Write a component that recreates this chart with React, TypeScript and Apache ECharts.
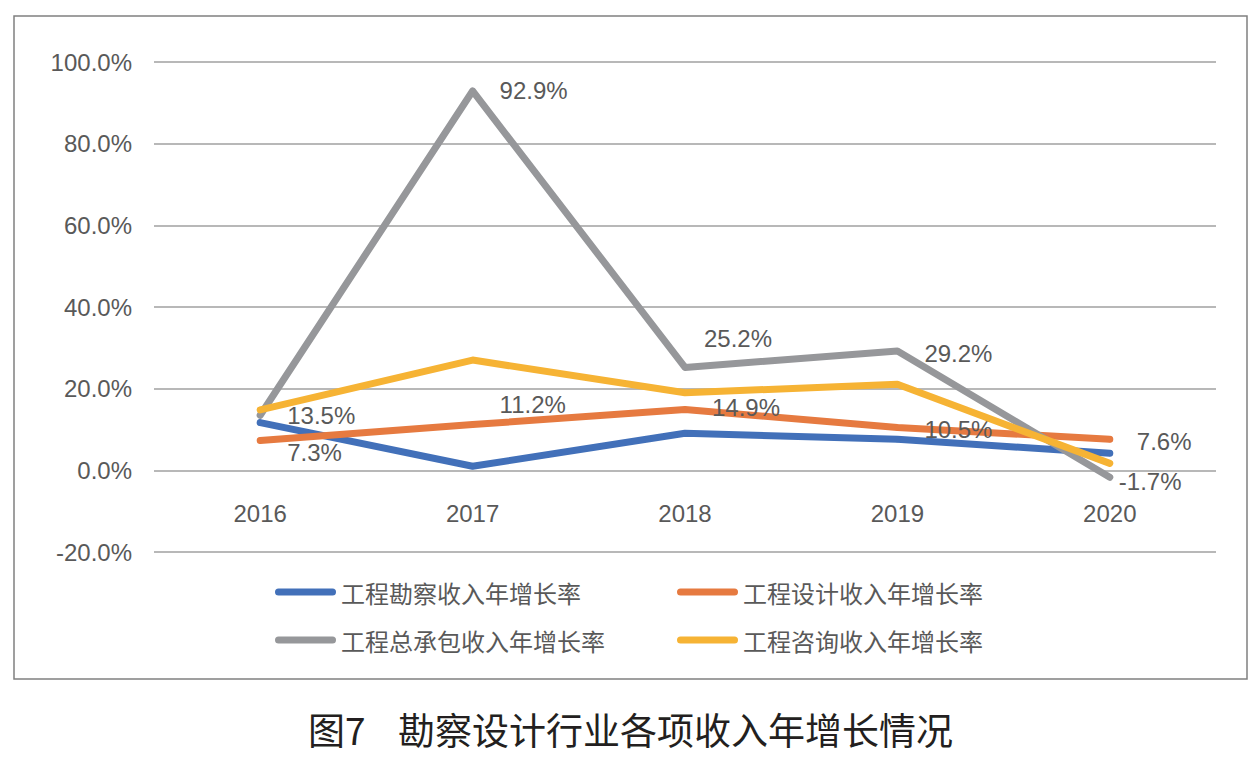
import React, { useEffect, useRef } from "react";
import * as echarts from "echarts";

const years = ["2016", "2017", "2018", "2019", "2020"];
const seriesNames = ["工程勘察收入年增长率", "工程设计收入年增长率", "工程总承包收入年增长率", "工程咨询收入年增长率"];
const survey = [11.7, 1.0, 9.1, 7.6, 4.2];
const design = [7.3, 11.2, 14.9, 10.5, 7.6];
const epc = [13.5, 92.9, 25.2, 29.2, -1.7];
const consulting = [14.8, 27.0, 19.0, 21.1, 1.7];
const yTicks = { min: -20, max: 100, interval: 20 };
const chartTitleNo = "图7";
const chartTitle = "勘察设计行业各项收入年增长情况";

const colors = ["#4270b9", "#e67a40", "#96979a", "#f6b334"];
const epcLabelOffsets = [[0, 0], [0, 0], [-8, -29], [0, 2], [-18, 4]];
const designLabelOffsets = [[0, 12], [0, -20], [0, -2], [0, 2], [0, 2]];

const FONT = "'Liberation Sans', 'Noto Sans CJK SC', sans-serif";
const CJK = "'Noto Sans CJK SC', sans-serif";
const PILL = "path://M3.5,0 L57.5,0 A3.5,3.5 0 0 1 57.5,7 L3.5,7 A3.5,3.5 0 0 1 3.5,0 Z";

export default function App() {
  const ref = useRef<HTMLDivElement>(null);
  useEffect(() => {
    if (!ref.current) return;
    const chart = echarts.init(ref.current, undefined, { renderer: "svg" });
    const pct = (v: number) => v.toFixed(1) + "%";
    const labelStyle = { fontSize: 24, color: "#595959", fontFamily: FONT };
    const withLabels = (vals: number[], offsets: number[][]) =>
      vals.map((v, i) => ({
        value: v,
        label: { show: true, position: "right", distance: 24, offset: offsets[i], formatter: pct(v), ...labelStyle },
      }));
    const makeSeries = (name: string, data: any[], color: string, z: number) => ({
      name,
      type: "line",
      data,
      symbol: "circle",
      symbolSize: 6,
      showSymbol: true,
      z,
      lineStyle: { width: 7, color, cap: "round", join: "round" },
      itemStyle: { color, borderWidth: 0 },
      emphasis: { disabled: true },
    });
    const legendItem = (name: string, left: number, top: number) => ({
      data: [name],
      left,
      top,
      icon: PILL,
      itemWidth: 61,
      itemHeight: 7,
      itemGap: 0,
      itemTextGap: 11,
      textStyle: { fontSize: 24, color: "#595959", fontFamily: CJK },
      selectedMode: false,
    });
    chart.setOption({
      animation: false,
      backgroundColor: "#ffffff",
      grid: { left: 154, right: 44, top: 62, bottom: 210, containLabel: false },
      xAxis: {
        type: "category",
        data: years,
        boundaryGap: true,
        axisLine: { show: false, onZero: false },
        axisTick: { show: false },
        axisLabel: { margin: -51, fontSize: 24, color: "#595959", fontFamily: FONT },
      },
      yAxis: {
        type: "value",
        min: yTicks.min,
        max: yTicks.max,
        interval: yTicks.interval,
        axisLine: { show: false },
        axisTick: { show: false },
        splitLine: { lineStyle: { color: "#a0a0a0", width: 1.5 } },
        axisLabel: { margin: 22, fontSize: 24, color: "#595959", fontFamily: FONT, formatter: (v: number) => pct(v) },
      },
      legend: [
        legendItem(seriesNames[0], 270, 575),
        legendItem(seriesNames[1], 672, 575),
        legendItem(seriesNames[2], 270, 623),
        legendItem(seriesNames[3], 672, 623),
      ],
      series: [
        makeSeries(seriesNames[0], survey, colors[0], 2),
        makeSeries(seriesNames[1], withLabels(design, designLabelOffsets), colors[1], 3),
        makeSeries(seriesNames[2], withLabels(epc, epcLabelOffsets), colors[2], 4),
        makeSeries(seriesNames[3], consulting, colors[3], 5),
      ],
      graphic: [
        {
          type: "rect",
          shape: { x: 14, y: 16, width: 1233, height: 663 },
          style: { fill: "none", stroke: "#808080", lineWidth: 1.5 },
          silent: true,
        },
        {
          type: "text",
          left: 308,
          top: 710,
          style: { text: chartTitleNo, fontSize: 37, fill: "#231f20", fontFamily: CJK, fontWeight: 400 },
        },
        {
          type: "text",
          left: 398,
          top: 710,
          style: { text: chartTitle, fontSize: 37, fill: "#231f20", fontFamily: CJK, fontWeight: 400 },
        },
      ],
    });
    return () => chart.dispose();
  }, []);
  return <div ref={ref} style={{ position: "fixed", left: 0, top: 0, width: 1260, height: 762 }} />;
}
